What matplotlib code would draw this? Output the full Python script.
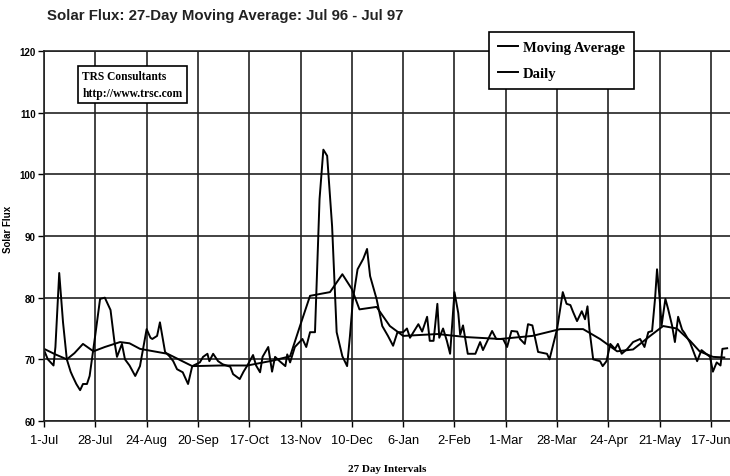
import matplotlib
matplotlib.use('Agg')
import matplotlib.pyplot as plt

# days counted from 1-Jul-96
daily_day = [0, 2, 5, 6, 8, 10, 12, 14, 15, 17, 19, 20.5, 22.6, 24, 27, 29.5, 32, 35, 37,
             38.4, 41, 42.6, 45, 48, 50.5, 54, 56, 57, 59.5, 61, 63.7, 66, 68, 70, 73,
             75.8, 78, 82, 83.7, 86, 87, 89, 91.6, 94, 98, 99.5, 103, 105, 107, 110,
             111.6, 113.7, 115, 118, 120, 121.6, 124, 127, 128, 129.5, 132, 136, 138,
             140, 142.6, 145, 147, 149, 151.6, 154, 157, 159.5, 161, 162.6, 165, 168,
             170, 171.6, 175, 178, 181, 183.7, 186, 189, 191, 192.6, 197, 199, 201.6,
             203, 205, 207, 208, 210, 212, 213.7, 216, 218, 219, 220.5, 223, 227, 229.5,
             231, 235.8, 238, 241.6, 243.7, 246, 249, 250.5, 253, 254.7, 257, 260, 264.7,
             266, 270, 273, 275, 277, 278.4, 280.5, 283, 284.7, 286, 287, 289, 292.6, 294,
             296, 298, 300.5, 302, 304, 307, 310, 313.7, 316, 318, 320, 321.6, 322.6, 324,
             325, 327, 328.4, 330.5, 332, 333.7, 335.8, 337, 340, 343.7, 346, 348, 350.5,
             352, 354, 356, 357, 359.5]
daily_val = [71.5, 70, 69, 72, 84, 76, 70, 68, 67.3, 66, 65, 66, 66, 67.3, 74, 79.8, 80, 78, 73,
             70.4, 72.5, 70, 69, 67.3, 68.9, 74.9, 73.5, 73.3, 73.8, 76, 71.2, 70.5, 69.7, 68.4, 67.9,
             66, 68.9, 69.5, 70.4, 70.9, 69.7, 70.9, 69.7, 69.2, 68.8, 67.6, 66.8, 68, 69, 70.7,
             69, 67.9, 70.4, 72, 68, 70.4, 69.7, 68.9, 70.8, 69.5, 72, 73.3, 72,
             74.4, 74.4, 96, 104, 103, 91.6, 74.4, 70.5, 68.9, 73.8, 79.8, 84.6, 86.3,
             87.9, 83.5, 79.8, 75.4, 73.8, 72.2, 74.4, 74.4, 75, 73.5, 75.7, 74.5, 76.9,
             73, 73, 79, 73.5, 75, 73, 70.9, 80.9, 77.5, 74, 75.5, 70.9, 70.9, 72.8,
             71.5, 74.6, 73.3, 73.3, 72, 74.6, 74.5, 73.3, 72.5, 75.7, 75.5, 71.2, 70.9,
             70, 74.9, 80.9, 79, 78.8, 77.7, 76.2, 77.8, 76.5, 78.6, 74.9, 70, 69.7, 68.9,
             69.7, 72.5, 71.7, 72.5, 70.9, 71.7, 72.8, 73.3, 72, 74.4, 74.6, 80, 84.6, 79.8,
             75.5, 79.8, 78.2, 75.5, 72.8, 76.9, 74.8, 74.3, 72.7, 69.7, 71.5, 71, 70.4,
             68, 69.5, 69, 71.7, 71.8]

ma_day = [0, 6, 12, 16, 20.5, 26, 32, 40, 45, 50.5, 65, 78, 92.6, 107, 120.5, 129.5, 134.7,
          140, 150.5, 157, 162, 166, 175, 182, 189, 207, 222.6, 240, 257, 271.6, 283.7,
          292.6, 301.6, 310, 319, 325.8, 333, 340, 345, 352, 358]
ma_val = [71.7, 70.8, 70, 71, 72.5, 71.3, 72, 72.8, 72.6, 71.7, 70.9, 68.9, 69, 69, 69.8,
          70.5, 75.4, 80.3, 80.9, 83.8, 81.4, 78.1, 78.5, 75.4, 73.8, 74.1, 73.6, 73.3,
          73.8, 74.9, 74.9, 73.3, 71.3, 71.6, 73.8, 75.4, 75, 73, 71.3, 70.4, 70.3]

tick_days = [0, 27, 54, 81, 108, 135, 162, 189, 216, 243, 270, 297, 324, 351]
tick_labels = ['1-Jul', '28-Jul', '24-Aug', '20-Sep', '17-Oct', '13-Nov', '10-Dec',
               '6-Jan', '2-Feb', '1-Mar', '28-Mar', '24-Apr', '21-May', '17-Jun']
y_ticks = [60, 70, 80, 90, 100, 110, 120]

sans = ['Liberation Sans', 'DejaVu Sans']
serif = ['Liberation Serif', 'DejaVu Serif']

fig = plt.figure(figsize=(7.3, 4.77), dpi=100)
ax = fig.add_axes([0.0603, 0.1153, 0.9397, 0.7757])

ax.plot(ma_day, ma_val, color='black', lw=1.4, label='Moving Average')
ax.plot(daily_day, daily_val, color='black', lw=1.4, label='Daily')

ax.set_xlim(0, 361)
ax.set_ylim(60, 120)
ax.set_xticks(tick_days)
ax.set_xticklabels(tick_labels, family=sans, fontsize=9.3)
ax.set_yticks(y_ticks)
ax.set_yticklabels([str(v) for v in y_ticks], family=sans, fontsize=7, fontweight='bold')
ax.tick_params(axis='x', length=4, width=1, pad=5)
ax.tick_params(axis='y', length=4, width=1, pad=2)
ax.grid(True, color='#222222', lw=1.2)
for s in ax.spines.values():
    s.set_color('#222222')
    s.set_linewidth(1.2)
ax.spines['right'].set_visible(False)

fig.text(0.011, 0.52, 'Solar Flux', family=sans, fontsize=7, fontweight='bold',
         rotation=90, ha='center', va='center')
ax.set_xlabel('27 Day Intervals', family=serif, fontsize=8, fontweight='bold', labelpad=13)

fig.text(0.064, 0.966, 'Solar Flux: 27-Day Moving Average: Jul 96 - Jul 97', family=sans,
         fontsize=10.8, fontweight='bold', ha='left', va='center', color='#222222')

# company box
ax.text(0.056, 0.91, 'TRS Consultants\nhttp://www.trsc.com', transform=ax.transAxes,
        family=serif, fontsize=8.3, fontweight='bold', ha='left', va='center',
        linespacing=1.6, zorder=5,
        bbox=dict(boxstyle='square,pad=0.35', fc='white', ec='black', lw=1.2))

leg = ax.legend(loc='upper left', bbox_to_anchor=(0.649, 1.052), frameon=True,
                fancybox=False, framealpha=1,
                prop={'family': serif, 'size': 10.5, 'weight': 'bold'},
                handlelength=1.4, handletextpad=0.3, borderpad=0.6, labelspacing=0.9,
                borderaxespad=0)
leg.get_frame().set_edgecolor('black')
leg.get_frame().set_linewidth(1.2)
leg.set_zorder(6)

fig.savefig('out.png', dpi=100)
